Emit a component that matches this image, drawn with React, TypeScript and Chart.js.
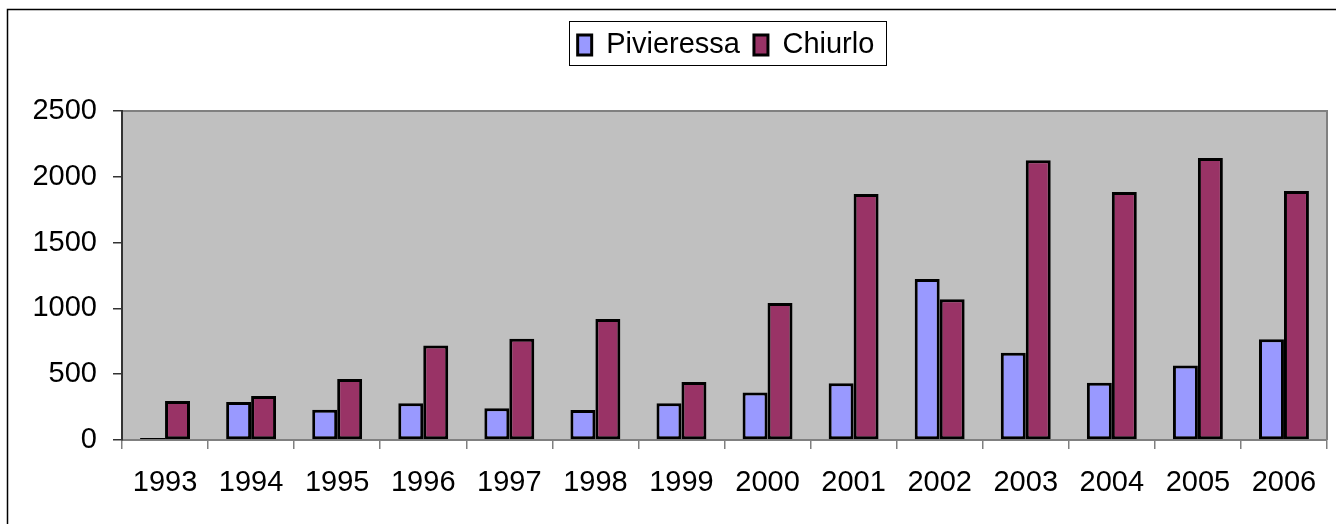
import React, { useEffect, useRef } from "react";
import { Chart, registerables } from "chart.js";

Chart.register(...registerables);

const years = ["1993", "1994", "1995", "1996", "1997", "1998", "1999", "2000", "2001", "2002", "2003", "2004", "2005", "2006"];
const pivieressa = [15, 289, 230, 279, 241, 228, 279, 360, 431, 1223, 663, 435, 567, 765];
const chiurlo = [296, 334, 463, 719, 770, 919, 441, 1041, 1869, 1069, 2125, 1884, 2143, 1892];
const seriesNames = ["Pivieressa", "Chiurlo"];
const yMin = 0;
const yMax = 2500;
const yStep = 500;

const FONT = "'Liberation Sans', Arial, sans-serif";
const LEG_PAD = 14;
const LEG_FONT = 29;
const PLOT_TOP = 111;

const framePlugin = {
  id: "excelFrame",
  beforeLayout(chart: any) {
    // nothing
  },
  afterLayout(chart: any) {
    const lg = chart.legend;
    if (!lg) return;
    const h = lg.bottom - lg.top;
    const itemH = h - 2 * LEG_PAD;
    const center = 43;
    lg.top = center - LEG_PAD - itemH / 2;
    lg.bottom = lg.top + h;
    const half = (lg.right - lg.left) / 2;
    const c = 726;
    lg.left = c - half;
    lg.right = c + half;
  },
  beforeDraw(chart: any) {
    const { ctx, chartArea: a } = chart;
    ctx.save();
    ctx.fillStyle = "#ffffff";
    ctx.fillRect(0, 0, chart.width, chart.height);
    ctx.fillStyle = "#C0C0C0";
    ctx.fillRect(a.left, a.top, a.right - a.left, a.bottom - a.top);
    ctx.strokeStyle = "#808080";
    ctx.lineWidth = 2;
    ctx.beginPath();
    ctx.moveTo(a.left, a.top);
    ctx.lineTo(a.right, a.top);
    ctx.lineTo(a.right, a.bottom);
    ctx.stroke();
    ctx.restore();
  },
  afterDraw(chart: any) {
    const { ctx } = chart;
    ctx.save();
    ctx.strokeStyle = "#000000";
    ctx.lineWidth = 1.5;
    ctx.strokeRect(7.5, 9.5, chart.width + 20, chart.height + 20);
    const lg = chart.legend;
    if (lg && lg.lineWidths) {
      const W = lg.lineWidths[0] - LEG_PAD;
      const cx = (lg.left + lg.right) / 2;
      const cy = 43;
      ctx.lineWidth = 1;
      const x0 = Math.round(cx - W / 2 - 9) + 0.5;
      const x1 = Math.round(cx + W / 2 + 12) + 0.5;
      const y0 = Math.round(cy - 22) + 0.5;
      ctx.strokeRect(x0, y0, x1 - x0, 44);
    }
    ctx.restore();
  },
};

export default function App() {
  const ref = useRef<HTMLCanvasElement | null>(null);

  useEffect(() => {
    document.body.style.margin = "0";
    const canvas = ref.current;
    if (!canvas) return;
    const chart = new Chart(canvas, {
      type: "bar",
      data: {
        labels: years,
        datasets: [
          {
            label: seriesNames[0],
            data: pivieressa,
            backgroundColor: "#9999FF",
            borderColor: "#000000",
            borderWidth: 3,
            borderSkipped: false,
            categoryPercentage: 0.58,
            barPercentage: 1.0,
          },
          {
            label: seriesNames[1],
            data: chiurlo,
            backgroundColor: "#993366",
            borderColor: "#000000",
            borderWidth: 3,
            borderSkipped: false,
            categoryPercentage: 0.58,
            barPercentage: 1.0,
          },
        ],
      },
      options: {
        responsive: false,
        animation: false,
        devicePixelRatio: 1,
        layout: { padding: { top: PLOT_TOP - (2 * LEG_PAD + LEG_FONT) + 4, left: 0, right: 9, bottom: 0 } },
        plugins: {
          legend: {
            display: true,
            position: "top",
            labels: {
              font: { family: FONT, size: LEG_FONT },
              color: "#000000",
              boxWidth: 14,
              boxHeight: 20,
              padding: LEG_PAD,
            },
          },
          tooltip: { enabled: false },
          title: { display: false },
        },
        scales: {
          x: {
            type: "category",
            offset: true,
            grid: {
              display: true,
              offset: true,
              drawOnChartArea: false,
              drawTicks: true,
              tickLength: 9,
              color: "#808080",
              lineWidth: 1.5,
            },
            border: { display: true, color: "#808080", width: 2 },
            ticks: {
              font: { family: FONT, size: 29 },
              color: "#000000",
              padding: 17,
              maxRotation: 0,
              autoSkip: false,
            },
            afterFit(scale: any) {
              scale.height = 84;
            },
          },
          y: {
            min: yMin,
            max: yMax,
            grid: {
              display: true,
              drawOnChartArea: false,
              drawTicks: true,
              tickLength: 9,
              color: "#333333",
              lineWidth: 1.5,
            },
            border: { display: true, color: "#333333", width: 2 },
            ticks: {
              stepSize: yStep,
              font: { family: FONT, size: 29 },
              color: "#000000",
              padding: 16,
              callback: (v: any) => String(v),
            },
            afterFit(scale: any) {
              scale.width = 122;
            },
          },
        },
      },
      plugins: [framePlugin],
    });
    return () => chart.destroy();
  }, []);

  return (
    <div style={{ width: 1336, height: 524 }}>
      <canvas ref={ref} width={1336} height={524} style={{ display: "block" }} />
    </div>
  );
}
